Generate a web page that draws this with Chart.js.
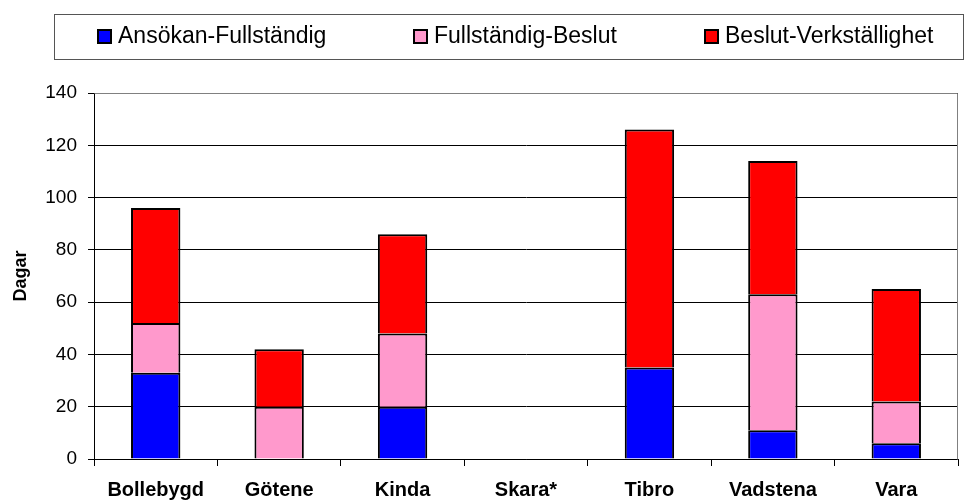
<!DOCTYPE html>
<html>
<head>
<meta charset="utf-8">
<title>Handläggningstid per kommun</title>
<script src="https://cdn.jsdelivr.net/npm/chart.js@4/dist/chart.umd.min.js"></script>
<style>
  html, body { margin: 0; padding: 0; background: #ffffff; }
  #wrap { width: 964px; height: 500px; }
</style>
</head>
<body>
<div id="wrap"><canvas id="chart" width="964" height="500"></canvas></div>
<script>
// Kommuner och dagar per handläggningssteg
const municipalities = ['Bollebygd', 'Götene', 'Kinda', 'Skara*', 'Tibro', 'Vadstena', 'Vara'];
const ansokanFullstandig = [33, 0, 20, 0, 35, 11, 6];
const fullstandigBeslut = [19, 20, 28, 0, 0, 52, 16];
const beslutVerkstallighet = [44, 22, 38, 0, 91, 51, 43];
const seriesNames = ['Ansökan-Fullständig', 'Fullständig-Beslut', 'Beslut-Verkställighet'];
const yAxisTitle = 'Dagar';
const yMin = 0;
const yMax = 140;
const yStep = 20;

const FONT = '"Liberation Sans", Arial, Helvetica, sans-serif';
const seriesColors = ['#0000ff', '#ff99cc', '#ff0000'];

// Legend in a framed box above the plot
const boxedLegend = {
  id: 'boxedLegend',
  afterDraw(chart) {
    const ctx = chart.ctx;
    ctx.save();
    ctx.strokeStyle = '#555555';
    ctx.lineWidth = 1;
    ctx.strokeRect(54.5, 14.5, 909, 45);
    const itemX = [98, 414, 705];
    ctx.font = '23px ' + FONT;
    ctx.textBaseline = 'middle';
    ctx.textAlign = 'left';
    chart.data.datasets.forEach((ds, i) => {
      const x = itemX[i];
      ctx.fillStyle = ds.backgroundColor;
      ctx.fillRect(x, 30, 13, 13);
      ctx.lineWidth = 2;
      ctx.strokeStyle = '#000000';
      ctx.strokeRect(x, 30, 13, 13);
      ctx.fillStyle = '#000000';
      ctx.fillText(ds.label, x + 20, 37);
    });
    ctx.restore();
  }
};

// Grey frame on the top and right of the plot area
const plotFrame = {
  id: 'plotFrame',
  beforeDatasetsDraw(chart) {
    const { ctx, chartArea: a } = chart;
    ctx.save();
    ctx.strokeStyle = '#808080';
    ctx.lineWidth = 1;
    ctx.beginPath();
    ctx.moveTo(Math.round(a.left) + 0.5, Math.round(a.top) + 0.5);
    ctx.lineTo(Math.round(a.right) - 0.5, Math.round(a.top) + 0.5);
    ctx.lineTo(Math.round(a.right) - 0.5, Math.round(a.bottom) + 0.5);
    ctx.stroke();
    ctx.restore();
  }
};

const makeDataset = (label, data, color) => ({
  label: label,
  data: data,
  backgroundColor: color,
  borderColor: '#000000',
  borderWidth: 2,
  borderSkipped: 'start',
  barPercentage: 0.4,
  categoryPercentage: 1.0
});

new Chart(document.getElementById('chart'), {
  type: 'bar',
  data: {
    labels: municipalities,
    datasets: [
      makeDataset(seriesNames[0], ansokanFullstandig, seriesColors[0]),
      makeDataset(seriesNames[1], fullstandigBeslut, seriesColors[1]),
      makeDataset(seriesNames[2], beslutVerkstallighet, seriesColors[2])
    ]
  },
  options: {
    responsive: false,
    animation: false,
    events: [],
    layout: { padding: { top: 93, right: 6, bottom: 0, left: 6 } },
    plugins: {
      legend: { display: false },
      tooltip: { enabled: false }
    },
    scales: {
      x: {
        stacked: true,
        afterFit(scale) { scale.height = 41; },
        border: { display: true, color: '#000000', width: 1 },
        grid: {
          offset: true,
          drawOnChartArea: false,
          drawTicks: true,
          tickLength: 7,
          color: '#000000',
          lineWidth: 1
        },
        ticks: {
          color: '#000000',
          padding: 12,
          maxRotation: 0,
          font: { family: FONT, size: 20, weight: 'bold' }
        }
      },
      y: {
        stacked: true,
        min: yMin,
        max: yMax,
        afterFit(scale) { scale.width = 88; },
        border: { display: true, color: '#000000', width: 1 },
        grid: {
          color: '#000000',
          lineWidth: 1,
          tickLength: 6
        },
        ticks: {
          stepSize: yStep,
          color: '#000000',
          padding: 11,
          font: { family: FONT, size: 19 }
        },
        title: {
          display: true,
          text: yAxisTitle,
          color: '#000000',
          padding: { top: 4, bottom: 4 },
          font: { family: FONT, size: 18, weight: 'bold' }
        }
      }
    }
  },
  plugins: [plotFrame, boxedLegend]
});
</script>
</body>
</html>
